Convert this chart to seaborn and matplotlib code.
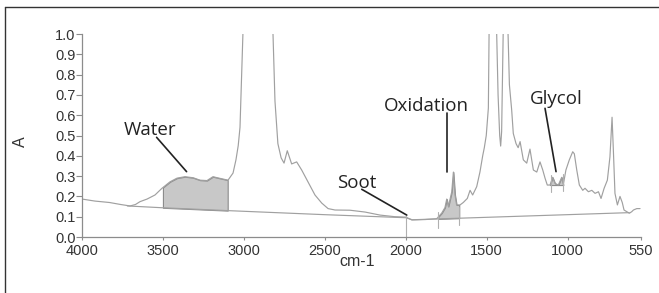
import numpy as np
import pandas as pd
import matplotlib
matplotlib.use("Agg")
import matplotlib.pyplot as plt
from matplotlib.lines import Line2D
import seaborn as sns

# ---------------------------------------------------------
# Spectrum (wavenumber cm-1, absorbance)
# values > 1.0 are the saturated peaks, clipped by the axis
# ---------------------------------------------------------
wavenumber = [
    4000, 3920, 3830, 3760, 3703, 3670, 3642, 3598, 3549, 3506,
    3456, 3413, 3364, 3314, 3271, 3228, 3191, 3154, 3098, 3067,
    3049, 3035, 3024, 3004, 2960, 2900, 2860, 2822, 2808, 2790,
    2770, 2752, 2732, 2705, 2674, 2643, 2603, 2561, 2519, 2480,
    2437, 2345, 2252, 2159, 2067, 2000, 1963, 1880, 1809, 1778,
    1758, 1747, 1737, 1716, 1706, 1696, 1686, 1665, 1645, 1620,
    1603, 1587, 1562, 1542, 1525, 1515, 1503, 1490, 1485, 1465,
    1440, 1430, 1420, 1414, 1408, 1398, 1385, 1370, 1360, 1346,
    1336, 1319, 1306, 1294, 1274, 1253, 1233, 1212, 1191, 1171,
    1154, 1140, 1126, 1109, 1093, 1078, 1058, 1037, 1027, 1011,
    990, 969, 959, 944, 928, 907, 893, 872, 851, 831,
    810, 794, 775, 755, 739, 726, 718, 708, 693, 677,
    663, 652, 635, 619, 604, 594, 573, 553,
]
absorbance = [
    0.187, 0.177, 0.170, 0.160, 0.153, 0.160, 0.174, 0.187, 0.207, 0.240,
    0.272, 0.290, 0.297, 0.292, 0.280, 0.278, 0.297, 0.290, 0.280, 0.315,
    0.380, 0.450, 0.540, 1.050, 1.600, 1.800, 1.600, 1.050, 0.670, 0.460,
    0.390, 0.364, 0.425, 0.360, 0.370, 0.330, 0.270, 0.207, 0.167, 0.140,
    0.133, 0.132, 0.123, 0.108, 0.100, 0.098, 0.084, 0.086, 0.090, 0.118,
    0.145, 0.187, 0.150, 0.223, 0.320, 0.207, 0.158, 0.158, 0.170, 0.190,
    0.230, 0.207, 0.248, 0.320, 0.400, 0.440, 0.500, 0.635, 1.050, 1.600,
    1.050, 0.700, 0.500, 0.448, 0.520, 1.050, 1.600, 1.050, 0.750, 0.626,
    0.510, 0.460, 0.440, 0.470, 0.380, 0.364, 0.433, 0.330, 0.320, 0.370,
    0.330, 0.290, 0.256, 0.256, 0.294, 0.264, 0.256, 0.294, 0.258, 0.330,
    0.380, 0.420, 0.410, 0.330, 0.256, 0.230, 0.240, 0.223, 0.230, 0.215,
    0.223, 0.190, 0.240, 0.280, 0.395, 0.590, 0.430, 0.215, 0.158, 0.200,
    0.170, 0.133, 0.125, 0.117, 0.125, 0.133, 0.140, 0.140,
]

# drawn baseline under the spectrum
base_wn = [3720, 3500, 3100, 2500, 2000, 1960, 1233, 620]
base_abs = [0.153, 0.144, 0.130, 0.110, 0.095, 0.085, 0.104, 0.120]

# shaded bands (cm-1)
water_band = (3500, 3100)
oxidation_band = (1800, 1670)
glycol_band = (1109, 1027)
glycol_level = 0.256

# thin marker ticks: (wavenumber, y from, y to)
markers = [
    (2000, 0.0, 0.105),
    (1800, 0.043, 0.125),
    (1670, 0.06, 0.15),
    (1105, 0.223, 0.305),
    (1027, 0.227, 0.31),
]

# labels: text, text x, text baseline y, leader line (x0, y0, x1, y1)
labels = ["Water", "Oxidation", "Glycol", "Soot"]
label_x = [3577, 1872, 1072, 2301]
label_y = [0.502, 0.621, 0.655, 0.241]
leaders = [
    (3539, 0.491, 3354, 0.322),
    (1747, 0.611, 1747, 0.322),
    (1140, 0.634, 1072, 0.322),
    (2272, 0.235, 1994, 0.108),
]

x_ticks = [4000, 3500, 3000, 2500, 2000, 1500, 1000, 550]
y_ticks = [0.0, 0.1, 0.2, 0.3, 0.4, 0.5, 0.6, 0.7, 0.8, 0.9, 1.0]

LINE = "#a0a0a0"
FILL = "#c8c8c8"

sns.set_style("ticks")
plt.rcParams["font.family"] = ["Liberation Sans", "DejaVu Sans"]

fig = plt.figure(figsize=(6.59, 2.93), dpi=100)
ax = fig.add_axes([0.1244, 0.1911, 0.8476, 0.6928])

spec = pd.DataFrame({"wn": wavenumber, "A": absorbance})
base = pd.DataFrame({"wn": base_wn, "A": base_abs})

sns.lineplot(data=spec, x="wn", y="A", ax=ax, color=LINE, linewidth=0.85,
             estimator=None, sort=False)
sns.lineplot(data=base, x="wn", y="A", ax=ax, color=LINE, linewidth=0.85,
             estimator=None, sort=False)

wn_arr = np.array(wavenumber[::-1], dtype=float)
ab_arr = np.array(absorbance[::-1], dtype=float)
bwn = np.array(base_wn[::-1], dtype=float)
bab = np.array(base_abs[::-1], dtype=float)


def band_x(hi, lo):
    inside = wn_arr[(wn_arr > lo) & (wn_arr < hi)]
    return np.concatenate([[lo], inside, [hi]])


for hi, lo in [water_band, oxidation_band]:
    xs = band_x(hi, lo)
    ax.fill_between(xs, np.interp(xs, bwn, bab), np.interp(xs, wn_arr, ab_arr),
                    facecolor=FILL, edgecolor="#8c8c8c", linewidth=0.8)

xs = band_x(*glycol_band)
ax.fill_between(xs, glycol_level, np.interp(xs, wn_arr, ab_arr),
                facecolor=FILL, edgecolor="#8c8c8c", linewidth=0.8)

for wn, y0, y1 in markers:
    ax.plot([wn, wn], [y0, y1], color="#b0b0b0", linewidth=0.8)

for text, tx, ty, (x0, y0, x1, y1) in zip(labels, label_x, label_y, leaders):
    ax.plot([x0, x1], [y0, y1], color="#222222", linewidth=1.2)
    ax.text(tx, ty, text, ha="center", va="baseline", fontsize=13.5,
            color="#222222", family=["Open Sans", "DejaVu Sans"])

ax.set_xlim(4000, 550)
ax.set_ylim(0, 1.0)
ax.set_xticks(x_ticks)
ax.set_yticks(y_ticks)
ax.set_yticklabels([f"{v:.1f}" for v in y_ticks])
ax.tick_params(axis="both", colors="#8c8c8c", labelcolor="#333333",
               labelsize=10.5, width=0.8)
ax.tick_params(axis="y", length=4, pad=0.5)
ax.tick_params(axis="x", length=2.5, pad=2.5)
sns.despine(ax=ax)
for side in ["left", "bottom"]:
    ax.spines[side].set_color("#8c8c8c")
    ax.spines[side].set_linewidth(0.9)

ax.set_xlabel("cm-1", fontsize=11.5, color="#333333")
ax.set_ylabel("A", fontsize=11.5, color="#333333")
ax.xaxis.set_label_coords(0.492, -0.085)
ax.yaxis.set_label_coords(-0.097, 0.47)

# figure frame (top and left edges only)
fig.add_artist(Line2D([0.0076, 1.0], [0.976, 0.976], color="#333333", linewidth=1.0))
fig.add_artist(Line2D([0.0076, 0.0076], [0.0, 0.976], color="#333333", linewidth=1.0))

fig.savefig("out.png", dpi=100)
